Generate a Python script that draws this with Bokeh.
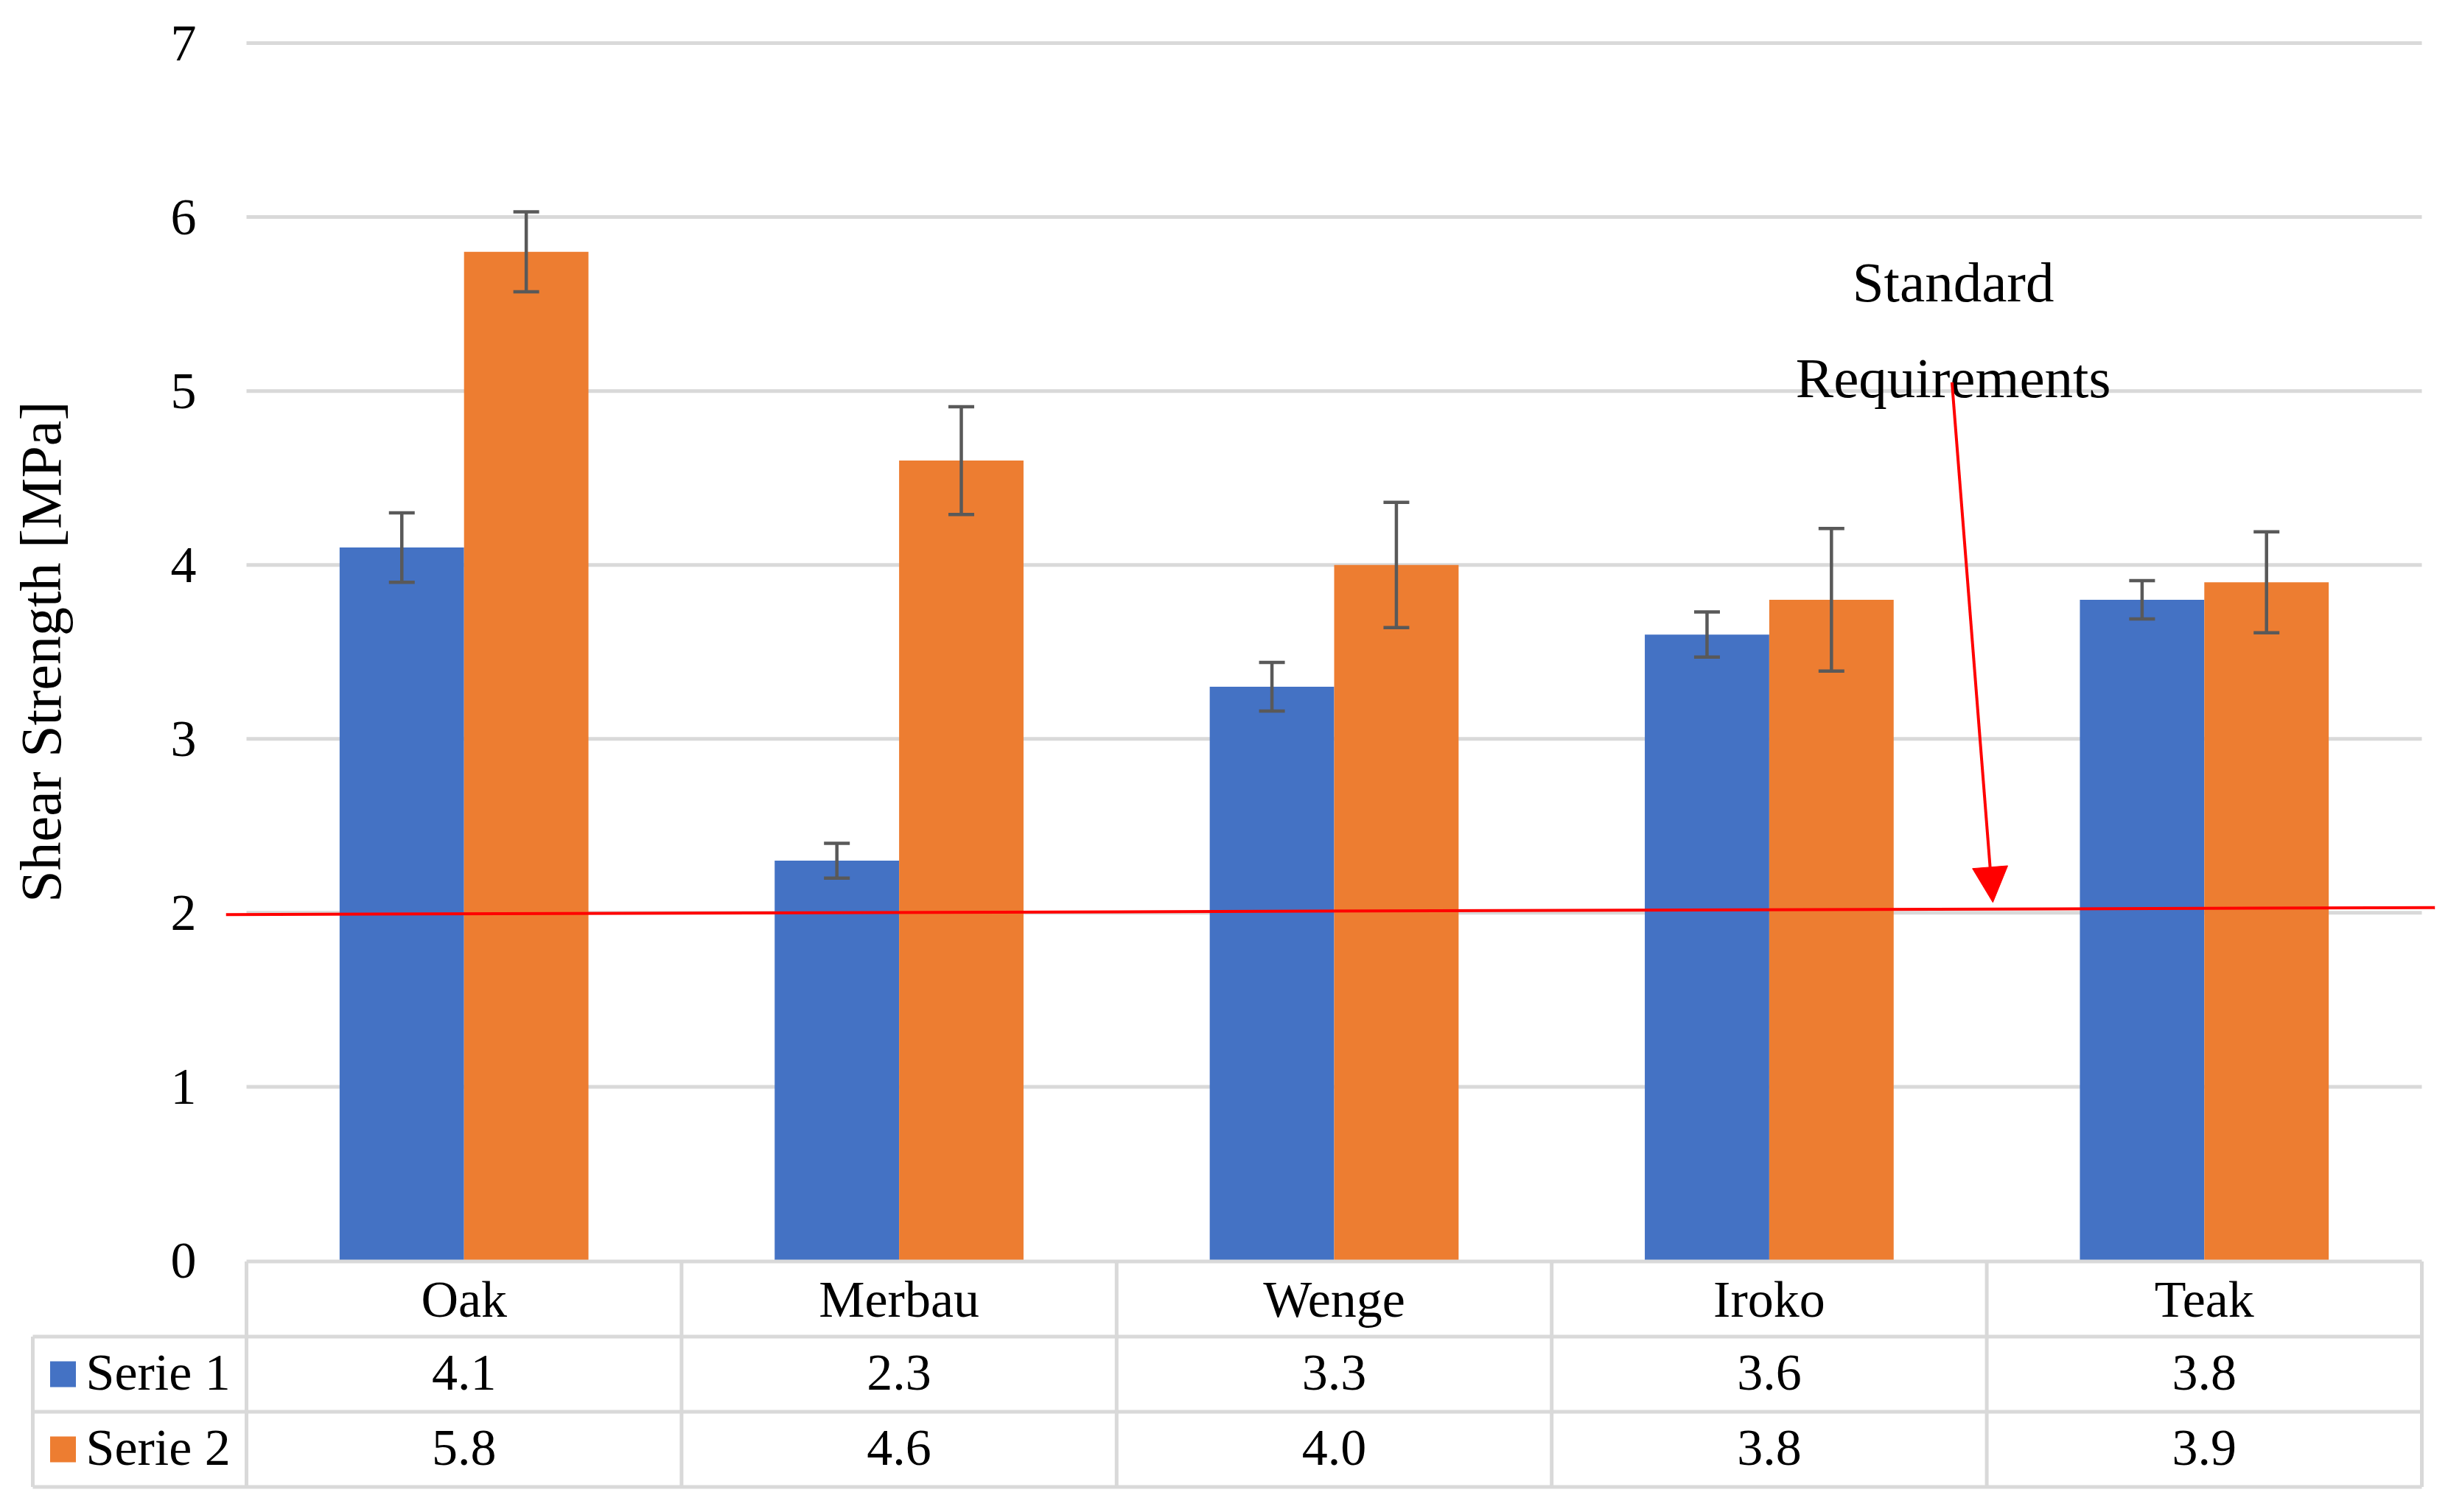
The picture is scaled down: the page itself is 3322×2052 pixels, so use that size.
import numpy as np
from bokeh.plotting import figure
from bokeh.models import (Range1d, FixedTicker, ColumnDataSource, Whisker, TeeHead,
                          Arrow, NormalHead)
from bokeh.core.properties import value
from bokeh.embed import file_html
from bokeh.resources import INLINE

# ---------------- data ----------------
species = ["Oak", "Merbau", "Wenge", "Iroko", "Teak"]
series_names = ["Serie 1", "Serie 2"]
serie1 = [4.1, 2.3, 3.3, 3.6, 3.8]
serie2 = [5.8, 4.6, 4.0, 3.8, 3.9]
err1 = [0.20, 0.10, 0.14, 0.13, 0.11]
err2 = [0.23, 0.31, 0.36, 0.41, 0.29]
y_ticks = [0, 1, 2, 3, 4, 5, 6, 7]
y_label = "Shear Strength [MPa]"
std_line_x = [-0.047, 5.03]
std_line_y = [1.99, 2.03]
annot_lines = ["Standard", "Requirements"]
annot_y = [5.625, 5.075]
annot_x = 3.923
arrow_from = (3.92, 5.05)
arrow_to = (4.014, 2.06)

# ---------------- style / layout ----------------
BLUE, ORANGE = "#4472C4", "#ED7D31"
GRID, ERR, RED = "#D9D9D9", "#595959", "#FF0000"
SERIF = "Liberation Serif"
W, H = 3306, 2030
PAGE_X, PAGE_Y = 1, -2       # offset between reference pixels and figure pixels
CAT_PX = 590.4               # pixels per category
CAT0 = 335 - PAGE_X          # figure px where category 0 starts
UNIT = 236.07                # pixels per MPa
ZERO = 1708.5 - PAGE_Y       # figure px of value 0
ROW_PX = 102.0               # table row height
ROW0 = 1709.5 - PAGE_Y       # figure px of table top
BAR_W = 0.286


def cx(px):
    return (px - CAT0) / CAT_PX


n = len(species)
idx = np.arange(n)

p = figure(width=W, height=H,
           x_range=Range1d(cx(0), cx(W)),
           y_range=Range1d(-(H - ZERO) / UNIT, ZERO / UNIT),
           output_backend="svg", toolbar_location=None, x_axis_location=None,
           min_border_left=0, min_border_right=0, min_border_top=0,
           min_border_bottom=0, outline_line_color=None,
           background_fill_color="white", border_fill_color="white")
p.grid.visible = False
p.extra_y_ranges = {"table": Range1d((H - ROW0) / ROW_PX, -ROW0 / ROW_PX)}

ax = p.yaxis[0]
ax.ticker = FixedTicker(ticks=y_ticks)
ax.axis_line_color = None
ax.major_tick_line_color = None
ax.minor_tick_line_color = None
ax.major_label_text_font = SERIF
ax.major_label_text_font_size = "70px"
ax.major_label_text_color = "black"
ax.major_label_standoff = -272

# y axis title
p.text(x=[cx(56 - PAGE_X)], y=[(y_ticks[0] + y_ticks[-1]) / 2], text=[y_label], angle=np.pi / 2,
       text_font=value(SERIF), text_font_size="78px", text_color="black",
       text_align="center", text_baseline="alphabetic")

# gridlines (behind bars)
grid_vals = [t for t in y_ticks if t > 0]
p.segment(x0=[0] * len(grid_vals), x1=[n] * len(grid_vals), y0=grid_vals, y1=grid_vals,
          line_color=GRID, line_width=5)

x1 = idx + 0.5 - BAR_W / 2
x2 = idx + 0.5 + BAR_W / 2
p.vbar(x=x1, top=serie1, bottom=0, width=BAR_W, fill_color=BLUE, line_color=None)
p.vbar(x=x2, top=serie2, bottom=0, width=BAR_W, fill_color=ORANGE, line_color=None)

for xs, vals, errs in ((x1, serie1, err1), (x2, serie2, err2)):
    src = ColumnDataSource(dict(x=xs, upper=np.array(vals) + np.array(errs),
                                lower=np.array(vals) - np.array(errs)))
    w = Whisker(base="x", upper="upper", lower="lower", source=src,
                line_color=ERR, line_width=4.5, level="overlay",
                upper_head=TeeHead(size=35, line_color=ERR, line_width=4.5),
                lower_head=TeeHead(size=35, line_color=ERR, line_width=4.5))
    p.add_layout(w)

# ---------------- data table under the chart ----------------
leg_left = cx(45 - PAGE_X)
sq_x = cx(86 - PAGE_X)
lab_x = cx(117 - PAGE_X)
tb = dict(y_range_name="table")

p.segment(x0=[0, leg_left, leg_left, leg_left], x1=[n] * 4, y0=[0, 1, 2, 3], y1=[0, 1, 2, 3],
          line_color=GRID, line_width=5, **tb)
vx = list(range(n + 1))
p.segment(x0=vx, x1=vx, y0=[0] * len(vx), y1=[3] * len(vx), line_color=GRID, line_width=5, **tb)
p.segment(x0=[leg_left], x1=[leg_left], y0=[1], y1=[3], line_color=GRID, line_width=5, **tb)

txt_kw = dict(text_font=value(SERIF), text_font_size="70px", text_color="black",
              text_baseline="middle", **tb)
p.text(x=idx + 0.5, y=[0.5] * n, text=species, text_align="center", **txt_kw)
p.text(x=idx + 0.5, y=[1.48] * n, text=[f"{v:.1f}" for v in serie1], text_align="center", **txt_kw)
p.text(x=idx + 0.5, y=[2.48] * n, text=[f"{v:.1f}" for v in serie2], text_align="center", **txt_kw)
p.scatter(x=[sq_x, sq_x], y=[1.5, 2.5], marker="square", size=35,
          fill_color=[BLUE, ORANGE], line_color=None, **tb)
p.text(x=[lab_x, lab_x], y=[1.48, 2.48], text=series_names, text_align="left", **txt_kw)

# ---------------- standard requirement line + annotation ----------------
p.line(x=std_line_x, y=std_line_y, line_color=RED, line_width=4)
p.add_layout(Arrow(end=NormalHead(size=48, fill_color=RED, line_color=RED),
                   x_start=arrow_from[0], y_start=arrow_from[1],
                   x_end=arrow_to[0], y_end=arrow_to[1],
                   line_color=RED, line_width=4))
p.text(x=[annot_x] * len(annot_lines), y=annot_y, text=annot_lines,
       text_font=value(SERIF), text_font_size="77px", text_color="black",
       text_align="center", text_baseline="alphabetic")

open("out.html", "w").write(file_html(p, INLINE))
